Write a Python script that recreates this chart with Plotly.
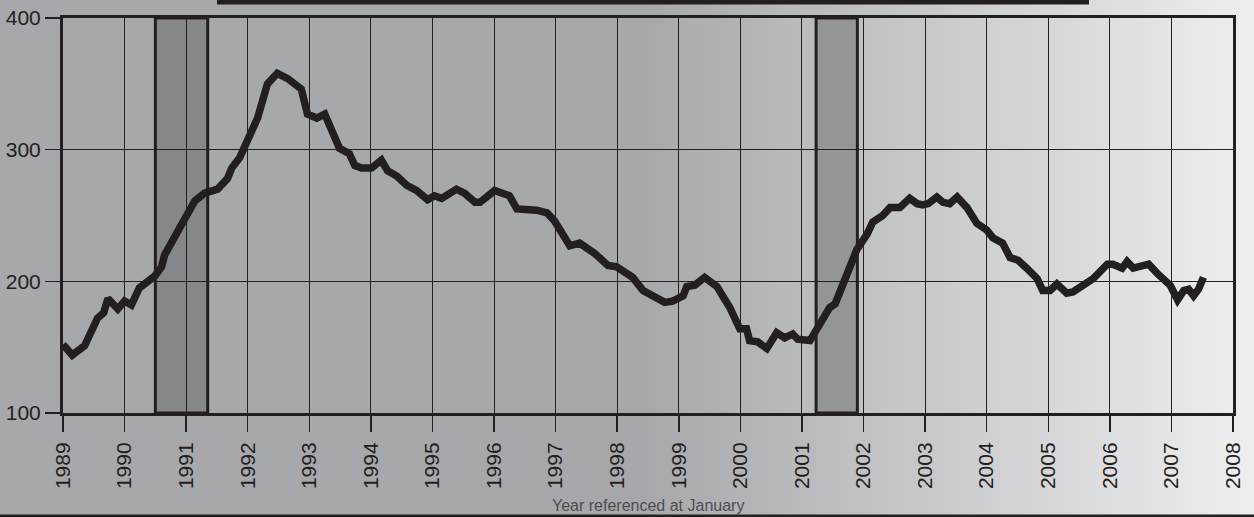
import plotly.graph_objects as go

# ---- data ----
years = [1989.00, 1989.15, 1989.35, 1989.43, 1989.56, 1989.66, 1989.73, 1989.89, 1990.00, 1990.11,
         1990.24, 1990.49, 1990.60, 1990.65, 1990.80, 1990.97, 1991.14, 1991.30, 1991.51, 1991.67,
         1991.74, 1991.87, 1992.00, 1992.16, 1992.32, 1992.48, 1992.65, 1992.87, 1992.97, 1993.12,
         1993.25, 1993.36, 1993.49, 1993.65, 1993.74, 1993.85, 1994.01, 1994.17, 1994.27, 1994.42,
         1994.58, 1994.74, 1994.92, 1995.03, 1995.15, 1995.39, 1995.52, 1995.69, 1995.77, 1996.01,
         1996.25, 1996.37, 1996.69, 1996.86, 1996.98, 1997.23, 1997.39, 1997.64, 1997.85, 1997.99,
         1998.25, 1998.42, 1998.69, 1998.77, 1998.90, 1999.07, 1999.13, 1999.26, 1999.42, 1999.62,
         1999.83, 1999.99, 2000.10, 2000.15, 2000.28, 2000.43, 2000.59, 2000.72, 2000.85, 2000.93,
         2001.13, 2001.26, 2001.45, 2001.54, 2001.73, 2001.89, 2002.06, 2002.15, 2002.31, 2002.43,
         2002.59, 2002.75, 2002.87, 2002.96, 2003.05, 2003.19, 2003.29, 2003.40, 2003.52, 2003.68,
         2003.84, 2004.00, 2004.10, 2004.26, 2004.38, 2004.51, 2004.65, 2004.82, 2004.91, 2005.03,
         2005.14, 2005.30, 2005.40, 2005.52, 2005.73, 2005.96, 2006.05, 2006.20, 2006.28, 2006.38,
         2006.50, 2006.63, 2006.77, 2006.87, 2006.98, 2007.10, 2007.20, 2007.28, 2007.36, 2007.44,
         2007.52]
values = [152, 144, 151, 160, 172, 176, 187, 179, 185, 182,
          195, 204, 211, 220, 232, 245, 261, 267, 270, 278,
          286, 294, 309, 324, 350, 358, 354, 346, 327, 324,
          327, 314, 301, 297, 288, 286, 286, 292, 284, 280,
          273, 269, 262, 265, 263, 270, 267, 260, 260, 269,
          265, 255, 254, 252, 246, 227, 229, 221, 212, 211,
          203, 193, 185, 184, 185, 189, 196, 197, 203, 196,
          180, 164, 164, 155, 154, 149, 161, 157, 160, 156,
          155, 165, 180, 183, 206, 224, 236, 245, 250, 256,
          256, 263, 259, 258, 259, 264, 260, 259, 264, 256,
          244, 239, 233, 229, 218, 216, 210, 202, 193, 193,
          198, 191, 192, 196, 202, 213, 213, 210, 215, 210,
          212, 213, 206, 201, 197, 186, 193, 194, 189, 194,
          203]

recessions = [(1990.50, 1991.35, "#86878b"), (2001.23, 2001.90, "#949599")]

x_ticks = list(range(1989, 2009))
y_ticks = [100, 200, 300, 400]

INK = "#231f20"
W, H = 1254, 517
ML, MR, MT, MB = 63, 21, 18, 104
PW, PH = W - ML - MR, H - MT - MB


def px_to_paper_x(px):
    return (px - ML) / PW


def px_to_paper_y(py):
    return (H - MB - py) / PH


def mix(c1, c2, t):
    a = [int(c1[i:i + 2], 16) for i in (1, 3, 5)]
    b = [int(c2[i:i + 2], 16) for i in (1, 3, 5)]
    return "#" + "".join(f"{round(a[k] + (b[k] - a[k]) * t):02x}" for k in range(3))


shapes = []
# background gradient (left flat grey, then lightening to the right)
dark, light = "#a7a8ab", "#efeff0"
start_px = 640
shapes.append(dict(type="rect", xref="paper", yref="paper",
                   x0=px_to_paper_x(-2), x1=px_to_paper_x(start_px + 1),
                   y0=px_to_paper_y(H + 2), y1=px_to_paper_y(-2),
                   fillcolor=dark, line_width=0, layer="below"))
step = 8
for p in range(start_px, W + step, step):
    t = min(1.0, (p - start_px) / (W - start_px))
    shapes.append(dict(type="rect", xref="paper", yref="paper",
                       x0=px_to_paper_x(p), x1=px_to_paper_x(p + step + 1),
                       y0=px_to_paper_y(H + 2), y1=px_to_paper_y(-2),
                       fillcolor=mix(dark, light, t), line_width=0, layer="below"))

# recession bars
for x0, x1, col in recessions:
    shapes.append(dict(type="rect", xref="x", yref="y", x0=x0, x1=x1, y0=100, y1=400,
                       fillcolor=col, line=dict(color=INK, width=3), layer="below"))

# title bar at the top (cropped)
shapes.append(dict(type="rect", xref="paper", yref="paper",
                   x0=px_to_paper_x(217), x1=px_to_paper_x(1089),
                   y0=px_to_paper_y(4.5), y1=px_to_paper_y(-2),
                   fillcolor=INK, line_width=0, layer="above"))
# bottom dark band
shapes.append(dict(type="rect", xref="paper", yref="paper",
                   x0=px_to_paper_x(-2), x1=px_to_paper_x(W + 2),
                   y0=px_to_paper_y(H + 2), y1=px_to_paper_y(514.5),
                   fillcolor=INK, line_width=0, layer="above"))

fig = go.Figure()
fig.add_trace(go.Scatter(x=years, y=values, mode="lines",
                         line=dict(color=INK, width=7.5), hoverinfo="skip"))

font_family = "Liberation Sans, Arial, sans-serif"
fig.update_layout(
    width=W, height=H,
    margin=dict(l=ML, r=MR, t=MT, b=MB, pad=0, autoexpand=False),
    paper_bgcolor="rgba(0,0,0,0)",
    plot_bgcolor="rgba(0,0,0,0)",
    showlegend=False,
    hovermode=False,
    dragmode=False,
    shapes=shapes,
    font=dict(family=font_family, color=INK),
    xaxis=dict(range=[1989, 2008], tickvals=x_ticks, ticktext=[str(v) for v in x_ticks],
               tickangle=-90, ticks="outside", ticklen=16, tickwidth=1.5, tickcolor=INK,
               showgrid=True, gridcolor=INK, gridwidth=1,
               showline=True, linecolor=INK, linewidth=3, mirror=True,
               zeroline=False, tickfont=dict(size=21, color=INK),
               ticklabelstandoff=2, automargin=False),
    yaxis=dict(range=[100, 400], tickvals=y_ticks, ticks="outside", ticklen=15,
               tickwidth=1.5, tickcolor=INK,
               showgrid=True, gridcolor=INK, gridwidth=1,
               showline=True, linecolor=INK, linewidth=3, mirror=True,
               zeroline=False, tickfont=dict(size=21, color=INK),
               ticklabelstandoff=0, automargin=False),
    annotations=[dict(text="Year referenced at January", xref="paper", yref="paper",
                      x=0.5, y=px_to_paper_y(506), xanchor="center", yanchor="middle",
                      showarrow=False, font=dict(size=16, color="#4d4d4f"))],
)

fig.write_html("out.html", config={"displayModeBar": False, "staticPlot": True},
               post_script="document.body.style.margin='0';document.body.style.overflow='hidden';"
                           "document.documentElement.style.background='#a7a8ab';")
